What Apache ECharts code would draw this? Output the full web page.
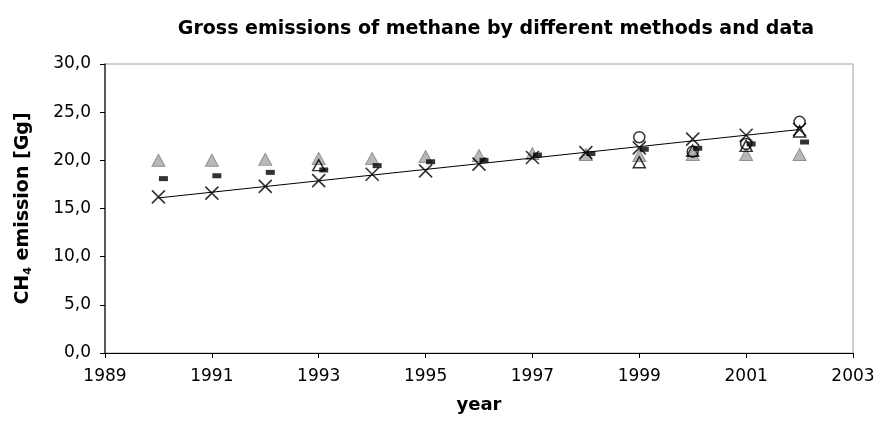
<!DOCTYPE html>
<html>
<head>
<meta charset="utf-8">
<script src="https://cdn.jsdelivr.net/npm/echarts@6/dist/echarts.min.js"></script>
<style>html,body{margin:0;padding:0;background:#fff}#c{width:878px;height:423px}</style>
</head>
<body>
<div id="c"></div>
<script>
var years = [1990,1991,1992,1993,1994,1995,1996,1997,1998,1999,2000,2001,2002];
var grayTriangles = [20.0,20.0,20.1,20.2,20.2,20.4,20.5,20.7,20.6,20.5,20.6,20.6,20.6];
var dashes = [18.1,18.4,18.75,19.0,19.45,19.85,20.0,20.55,20.7,21.15,21.25,21.7,21.9];
var crosses = [16.2,16.6,17.3,17.9,18.55,18.9,19.6,20.3,20.8,21.3,22.2,22.6,23.2];
var openTriYears = [1993,1999,2000,2001,2002];
var openTriangles = [19.5,19.8,21.0,21.5,23.0];
var circleYears = [1999,2000,2001,2002];
var circles = [22.4,20.9,21.7,24.0];
var yTicks = ['0,0','5,0','10,0','15,0','20,0','25,0','30,0'];
var xTicks = ['1989','1991','1993','1995','1997','1999','2001','2003'];
var base = 1989;

function pairs(xs, ys){ return xs.map(function(x,i){ return [x-base, ys[i]]; }); }

// linear trend of crosses
var n = years.length, mx=0, my=0;
years.forEach(function(y,i){ mx+=y; my+=crosses[i]; });
mx/=n; my/=n;
var sxy=0,sxx=0;
years.forEach(function(y,i){ sxy+=(y-mx)*(crosses[i]-my); sxx+=(y-mx)*(y-mx); });
var slope=sxy/sxx, icpt=my-slope*mx;
var trend=[[years[0]-base, icpt+slope*years[0]],[years[n-1]-base, icpt+slope*years[n-1]]];

var font='"DejaVu Sans", "Liberation Sans", Arial, sans-serif';
var chart = echarts.init(document.getElementById('c'));
chart.setOption({
  animation:false,
  backgroundColor:'#fff',
  title:{text:'Gross emissions of methane by different methods and data', left:491, top:15, textAlign:'center',
    textStyle:{fontFamily:font, fontSize:19, fontWeight:'bold', color:'#000'}},
  grid:{left:105, right:25, top:64, bottom:70, show:true, borderColor:'#a0a0a0', borderWidth:1, backgroundColor:'#fff'},
  xAxis:{type:'value', min:0, max:14, interval:2,
    name:'year', nameLocation:'middle', nameGap:43,
    nameTextStyle:{fontFamily:font, fontSize:18, fontWeight:'bold', color:'#000'},
    axisLine:{lineStyle:{color:'#000', width:1}},
    axisTick:{lineStyle:{color:'#000'}, length:5},
    splitLine:{show:false},
    axisLabel:{margin:15, fontFamily:font, fontSize:17, color:'#000',
      formatter:function(v){ return xTicks[Math.round(v/2)]; }}},
  yAxis:{type:'value', min:0, max:30, interval:5,
    name:'{a|CH}{b|4}{a| emission [Gg]}', nameLocation:'middle', nameGap:71, nameRotate:90,
    nameTextStyle:{rich:{a:{fontFamily:font, fontSize:19, fontWeight:'bold', color:'#000'},
      b:{fontFamily:font, fontSize:11, fontWeight:'bold', color:'#000', verticalAlign:'bottom', padding:[10,0,0,0]}}},
    axisLine:{show:true, lineStyle:{color:'#333', width:1.5}},
    axisTick:{show:true, lineStyle:{color:'#000'}, length:5},
    splitLine:{show:false},
    axisLabel:{margin:14, fontFamily:font, fontSize:17, color:'#000',
      formatter:function(v){ return yTicks[Math.round(v/5)]; }}},
  series:[
    {type:'scatter', data:pairs(years, grayTriangles), symbol:'triangle', symbolSize:[13,12],
      itemStyle:{color:'#a6a6a6', borderColor:'#7f7f7f', borderWidth:1}, z:2},
    {type:'scatter', data:pairs(openTriYears, openTriangles), symbol:'triangle', symbolSize:[12,11],
      itemStyle:{color:'rgba(0,0,0,0)', borderColor:'#000', borderWidth:1.5}, z:3},
    {type:'scatter', data:pairs(circleYears, circles), symbol:'circle', symbolSize:11,
      itemStyle:{color:'rgba(0,0,0,0)', borderColor:'#000', borderWidth:1.5}, z:4},
    {type:'scatter', data:pairs(years, dashes), symbol:'rect', symbolSize:[9,5], symbolOffset:[5,0],
      itemStyle:{color:'#000'}, z:5},
    {type:'scatter', data:pairs(years, crosses), symbol:'path://M0,0L10,10M10,0L0,10', symbolSize:13,
      itemStyle:{color:'rgba(0,0,0,0)', borderColor:'#000', borderWidth:1.6}, z:6},
    {type:'line', data:trend, symbol:'none', lineStyle:{color:'#000', width:1}, z:7}
  ]
});
</script>
</body>
</html>
